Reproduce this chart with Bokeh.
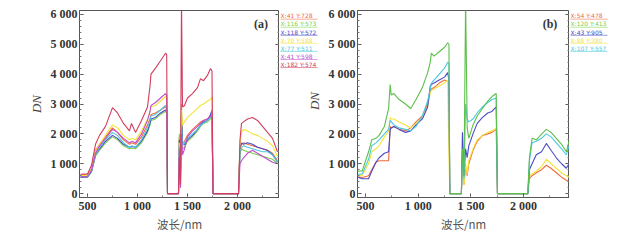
from bokeh.plotting import figure
from bokeh.layouts import row
from bokeh.models import ColumnDataSource, FixedTicker, LinearAxis, Label
from bokeh.embed import file_html
from bokeh.resources import INLINE
import math

# ---------------- data: panel (a) ----------------
WL_A = [430, 500, 540, 580, 620, 680, 750, 800, 860, 920, 940, 980, 1040, 1100, 1125, 1135,
        1180, 1230, 1280, 1292, 1300, 1410, 1418, 1430, 1440, 1450, 1470, 1500, 1550, 1600,
        1630, 1660, 1700, 1730, 1745, 1755, 2010, 2025, 2040, 2060, 2100, 2150, 2200, 2250,
        2300, 2350, 2400]

A_RED = [620, 640, 820, 1450, 1650, 1900, 2200, 2050, 1800, 1650, 1700, 1650, 1900, 2300, 2500, 2650,
         2700, 2800, 2900, 2850, 0, 0, 1900, 600, 2500, 1700, 1750, 1950, 2150, 2300,
         2400, 2450, 2500, 2600, 2650, 0, 0, 1500, 1650, 1700, 1650, 1600, 1550, 1500,
         1450, 1350, 1100]
A_GREEN = [540, 550, 720, 1250, 1450, 1700, 1900, 1800, 1600, 1500, 1530, 1500, 1700, 2050, 2300, 2450,
           2500, 2650, 2750, 2700, 0, 0, 2000, 800, 3000, 1500, 1550, 1750, 1900, 2100,
           2250, 2350, 2400, 2500, 2600, 0, 0, 1350, 1500, 1450, 1400, 1350, 1300, 1250,
           1200, 1150, 1000]
A_BLUE = [550, 560, 740, 1300, 1500, 1750, 1950, 1850, 1650, 1550, 1580, 1550, 1750, 2100, 2350, 2500,
          2550, 2700, 2800, 2750, 0, 0, 1800, 700, 2600, 1650, 1650, 1800, 1950, 2150,
          2300, 2400, 2450, 2650, 2800, 0, 0, 1550, 1700, 1650, 1700, 1650, 1550, 1500,
          1450, 1300, 1050]
A_YELLOW = [600, 620, 800, 1400, 1650, 1950, 2300, 2200, 1950, 1800, 1850, 1800, 2100, 2500, 2750, 2900,
            2950, 3100, 3250, 3200, 0, 0, 1700, 400, 2800, 2300, 2400, 2550, 2700, 2850,
            2950, 3000, 3100, 3150, 3250, 0, 0, 1700, 2050, 2150, 2100, 2000, 1950, 1850,
            1750, 1600, 1250]
A_CYAN = [560, 580, 760, 1300, 1550, 1800, 2050, 1950, 1700, 1550, 1600, 1550, 1800, 2200, 2450, 2600,
          2650, 2800, 2950, 2900, 0, 0, 1600, 500, 2200, 1600, 1700, 1850, 2000, 2150,
          2300, 2350, 2450, 2550, 2600, 0, 0, 1400, 1550, 1600, 1550, 1500, 1450, 1400,
          1400, 1300, 1050]
A_MAGENTA = [560, 580, 780, 1350, 1600, 1850, 2150, 2050, 1850, 1700, 1750, 1700, 2000, 2450, 2750, 2950,
             3050, 3200, 3350, 3300, 0, 0, 1500, 200, 2000, 1300, 1500, 1900, 2100, 2250,
             2350, 2450, 2500, 2600, 2550, 0, 0, 1000, 1100, 1200, 1350, 1450, 1350, 1250,
             1150, 1050, 1000]
A_MAROON = [650, 660, 950, 1650, 1950, 2250, 2880, 2700, 2350, 2100, 2350, 2050, 2450, 2900, 3600, 4000,
            4200, 4450, 4700, 4650, 0, 0, 1200, 300, 6500, 2900, 2950, 3200, 3350, 3550,
            3850, 3780, 3960, 4190, 4100, 0, 0, 1800, 2350, 2400, 2500, 2550, 2450, 2250,
            2050, 1850, 1400]

A_SERIES = ["A_RED", "A_GREEN", "A_BLUE", "A_YELLOW", "A_CYAN", "A_MAGENTA", "A_MAROON"]
A_LABELS = ["X:41 Y:728", "X:116 Y:573", "X:118 Y:572", "X:70 Y:588",
            "X:77 Y:511", "X:41 Y:598", "X:182 Y:574"]
A_COLORS = ["#f06a3c", "#7ccf4a", "#4a4ac8", "#f4e43a", "#4cc8e0", "#c24ccf", "#d23c5e"]

# ---------------- data: panel (b) ----------------
WL_B = [430, 470, 530, 560, 600, 630, 680, 720, 735, 745, 770, 820, 880, 930, 980, 1040,
        1090, 1115, 1125, 1150, 1200, 1250, 1280, 1292, 1300, 1410, 1420, 1435, 1450, 1465,
        1480, 1520, 1560, 1610, 1660, 1700, 1740, 1752, 2040, 2055, 2080, 2120, 2170, 2215,
        2260, 2310, 2360, 2405, 2430]

B_RED = [560, 540, 600, 800, 1050, 1100, 1100, 1100, 2250, 2200, 2250, 2150, 2100, 2200, 2400, 2600,
         3000, 3450, 3500, 3550, 3700, 3800, 3750, 3700, 0, 0, 1200, 300, 900, 600,
         1000, 1450, 1750, 1950, 2000, 2050, 2150, 0, 0, 500, 600, 700, 800, 950,
         850, 700, 550, 450, 400]
B_GREEN = [750, 760, 1400, 1800, 1850, 1950, 2250, 2850, 3650, 3300, 3350, 3150, 3000, 2850, 3150, 3550,
           4050, 4400, 4700, 4600, 4750, 4900, 5050, 5000, 0, 0, 1500, 600, 6500, 2200,
           1850, 2300, 2600, 2850, 3100, 3250, 3350, 0, 0, 1200, 1850, 1800, 1990, 2150,
           2050, 1850, 1650, 1400, 1750]
B_BLUE = [550, 500, 500, 750, 1050, 1200, 1350, 1400, 2150, 2200, 2250, 2150, 2050, 2100, 2300, 2500,
          2900, 3600, 3650, 3700, 3800, 3900, 4050, 3800, 0, 0, 2050, 600, 1500, 1200,
          1600, 2000, 2350, 2550, 2700, 2750, 2900, 0, 0, 800, 1000, 1300, 1400, 1680,
          1450, 1200, 1000, 850, 1000]
B_YELLOW = [600, 610, 1000, 1400, 1500, 1600, 1900, 2100, 2550, 2500, 2500, 2400, 2300, 2200, 2350, 2550,
            2900, 3400, 3450, 3500, 3600, 3700, 3800, 1200, 0, 0, 1400, 300, 1000, 650,
            1100, 1500, 1800, 1950, 2050, 2100, 2200, 0, 0, 600, 650, 750, 900, 1150,
            1000, 850, 700, 600, 550]
B_CYAN = [650, 660, 1150, 1600, 1700, 1800, 2000, 2150, 2450, 2400, 2300, 2200, 2150, 2100, 2250, 2600,
          3100, 3500, 3700, 3800, 4000, 4200, 4400, 4350, 0, 0, 1300, 500, 3000, 2500,
          2400, 2500, 2700, 2900, 3050, 3150, 3200, 0, 0, 1100, 1700, 1750, 1850, 2000,
          1900, 1700, 1500, 1300, 1600]

B_SERIES = ["B_RED", "B_YELLOW", "B_BLUE", "B_CYAN", "B_GREEN"]
B_LABELS = ["X:54 Y:478", "X:120 Y:413", "X:43 Y:905", "X:88 Y:380", "X:107 Y:557"]
B_LEGEND_COLORS = ["#f06a3c", "#7ccf4a", "#4a4ac8", "#f4e43a", "#4cc8e0"]
B_COLORS = ["#f06a3c", "#f4e43a", "#4a4ac8", "#4cc8e0", "#5cbf4a"]

Y_TICKS = [0, 1000, 2000, 3000, 4000, 5000, 6000]
Y_TICK_LABELS = ["0", "1 000", "2 000", "3 000", "4 000", "5 000", "6 000"]
X_TICKS = [500, 1000, 1500, 2000]
X_TICK_LABELS = ["500", "1 000", "1 500", "2 000"]

DATA_A = dict(wl=WL_A, A_RED=A_RED, A_GREEN=A_GREEN, A_BLUE=A_BLUE, A_YELLOW=A_YELLOW,
              A_CYAN=A_CYAN, A_MAGENTA=A_MAGENTA, A_MAROON=A_MAROON)
DATA_B = dict(wl=WL_B, B_RED=B_RED, B_GREEN=B_GREEN, B_BLUE=B_BLUE, B_YELLOW=B_YELLOW,
              B_CYAN=B_CYAN)

SERIF = "Liberation Serif"
TICK_COLOR = "#333333"
H = 240
TOP = 10
BOTTOM = 43
Y_RANGE = (-130, 6130)


def make_panel(width, xr, border_left, data, keys, colors, tag, ylabel):
    p = figure(width=width, height=H, x_range=xr, y_range=Y_RANGE,
               output_backend="svg", toolbar_location=None,
               min_border_left=border_left, min_border_right=0,
               min_border_top=TOP, min_border_bottom=BOTTOM)
    p.grid.visible = False
    p.outline_line_color = "#555555"
    p.outline_line_width = 1

    src = ColumnDataSource(data)
    for k, c in zip(keys, colors):
        p.line("wl", k, source=src, line_color=c, line_width=1.1)

    y_minor = list(range(0, 6001, 200))
    x_minor = list(range(250, 2500, 250))
    p.yaxis.ticker = FixedTicker(ticks=Y_TICKS, minor_ticks=y_minor)
    p.xaxis.ticker = FixedTicker(ticks=X_TICKS, minor_ticks=x_minor)
    p.yaxis.major_label_overrides = {t: s for t, s in zip(Y_TICKS, Y_TICK_LABELS)}
    p.xaxis.major_label_overrides = {t: s for t, s in zip(X_TICKS, X_TICK_LABELS)}
    for ax in (p.xaxis[0], p.yaxis[0]):
        ax.axis_line_color = "#555555"
        ax.major_tick_in = 4
        ax.major_tick_out = 0
        ax.minor_tick_in = 2
        ax.minor_tick_out = 0
        ax.major_tick_line_color = "#555555"
        ax.minor_tick_line_color = "#777777"
        ax.major_label_text_font = SERIF
        ax.major_label_text_font_style = "bold"
        ax.major_label_text_font_size = "12px"
        ax.major_label_text_color = TICK_COLOR
    p.xaxis.major_label_standoff = 1
    p.yaxis.major_label_standoff = 2
    p.xaxis.axis_label = "波长/nm"
    p.xaxis.axis_label_text_font = "Noto Sans CJK SC"
    p.xaxis.axis_label_text_font_style = "normal"
    p.xaxis.axis_label_text_font_size = "11.5px"
    p.xaxis.axis_label_text_color = "#555555"
    p.xaxis.axis_label_standoff = 0
    if ylabel:
        p.yaxis.axis_label = "DN"
        p.yaxis.axis_label_text_font = SERIF
        p.yaxis.axis_label_text_font_style = "italic"
        p.yaxis.axis_label_text_font_size = "13px"
        p.yaxis.axis_label_text_color = "#444444"
        p.yaxis.axis_label_standoff = 4

    # mirrored right axis with inward ticks (no labels)
    ra = LinearAxis(ticker=FixedTicker(ticks=Y_TICKS, minor_ticks=y_minor),
                    major_label_text_font_size="1px", major_label_standoff=0,
                    major_label_overrides={t: "" for t in Y_TICKS},
                    axis_line_color="#555555", major_tick_in=4, major_tick_out=0,
                    minor_tick_in=2, minor_tick_out=0,
                    major_tick_line_color="#555555", minor_tick_line_color="#777777")
    p.add_layout(ra, "right")

    p.add_layout(Label(x=xr[1] - 185, y=5680, text=tag, text_font=SERIF,
                       text_font_style="bold", text_font_size="12px", text_color="#333333",
                       text_align="center", text_baseline="middle"))
    return p


def make_side(width, labels, colors, dn_label):
    s = figure(width=width, height=H, x_range=(0, width), y_range=Y_RANGE,
               output_backend="svg", toolbar_location=None,
               x_axis_type=None, y_axis_type=None,
               min_border_left=0, min_border_right=0,
               min_border_top=TOP, min_border_bottom=BOTTOM)
    s.grid.visible = False
    s.outline_line_color = None
    for i, (lab, c) in enumerate(zip(labels, colors)):
        yy = 5950 - i * 270
        s.add_layout(Label(x=1, y=yy, text=lab, text_font="DejaVu Sans",
                           text_font_size="6px", text_color=c, text_baseline="middle",
                           text_align="left"))
        s.segment(x0=1, y0=yy - 110, x1=38, y1=yy - 110, line_color=c, line_width=0.8,
                  line_alpha=0.7)
    if dn_label:
        s.add_layout(Label(x=width - 8, y=3100, text="DN", text_font=SERIF,
                           text_font_style="italic", text_font_size="13px",
                           text_color="#444444", angle=math.pi / 2,
                           text_align="center", text_baseline="middle"))
    return s


pa = make_panel(279, (420, 2420), 79, DATA_A, A_SERIES, A_COLORS, "(a)", True)
sa = make_side(43, A_LABELS, A_COLORS, True)
pb = make_panel(247, (425, 2435), 35, DATA_B, B_SERIES, B_COLORS, "(b)", False)
sb = make_side(60, B_LABELS, B_LEGEND_COLORS, False)

layout = row(pa, sa, pb, sb)
open("out.html", "w").write(file_html(layout, INLINE))
